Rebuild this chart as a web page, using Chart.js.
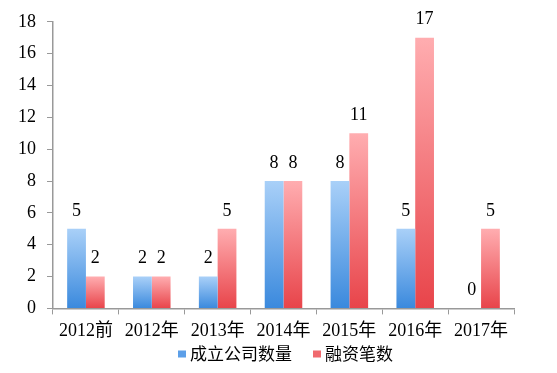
<!DOCTYPE html>
<html>
<head>
<meta charset="utf-8">
<script src="https://cdn.jsdelivr.net/npm/chart.js@4/dist/chart.umd.min.js"></script>
<style>
  html, body { margin: 0; padding: 0; background: #fff; }
  #wrap { width: 557px; height: 373px; }
</style>
</head>
<body>
<div id="wrap"><canvas id="chart" width="557" height="373"></canvas></div>
<script>
// --- data ---
const categories = ['2012前', '2012年', '2013年', '2014年', '2015年', '2016年', '2017年'];
const companyCounts = [5, 2, 2, 8, 8, 5, 0];     // 成立公司数量
const fundingCounts = [2, 2, 5, 8, 11, 17, 5];   // 融资笔数
const yTicks = [0, 2, 4, 6, 8, 10, 12, 14, 16, 18];

const FONT = '"Liberation Serif", "Noto Sans CJK SC", serif';
const CJK = '"Noto Sans CJK SC", sans-serif';

// gradient per bar: light at the bar's top, deeper at the baseline
function barGradient(top, bottom) {
    return function (ctx) {
        const chart = ctx.chart;
        const y = chart.scales && chart.scales.y;
        if (!chart.chartArea || !y || ctx.raw === undefined) return bottom;
        const y0 = y.getPixelForValue(ctx.raw);
        const y1 = y.getPixelForValue(0);
        if (y1 - y0 < 1) return bottom;
        const g = chart.ctx.createLinearGradient(0, y0, 0, y1);
        g.addColorStop(0, top);
        g.addColorStop(1, bottom);
        return g;
    };
}

// value above each bar
const valueLabels = {
    id: 'valueLabels',
    afterDatasetsDraw(chart) {
        const c = chart.ctx;
        c.save();
        c.font = '18px ' + FONT;
        c.fillStyle = '#000';
        c.textAlign = 'center';
        c.textBaseline = 'bottom';
        chart.data.datasets.forEach((ds, i) => {
            chart.getDatasetMeta(i).data.forEach((bar, j) => {
                c.fillText(String(ds.data[j]), bar.x, bar.y - 9);
            });
        });
        c.restore();
    }
};

// legend under the axis labels
const legendColors = ['#5c9fe8', '#f06a6e'];
const bottomLegend = {
    id: 'bottomLegend',
    afterDraw(chart) {
        const c = chart.ctx;
        c.save();
        c.font = '17px ' + CJK;
        c.textBaseline = 'middle';
        const items = chart.data.datasets.map((ds, i) => ({ text: ds.label, color: legendColors[i] }));
        const box = 8, gap = 4, spacing = 21;
        const widths = items.map(it => box + gap + c.measureText(it.text).width);
        const total = widths.reduce((a, b) => a + b, 0) + spacing * (items.length - 1);
        let x = chart.width / 2 + 7 - total / 2;
        const y = 354;
        items.forEach((it, i) => {
            c.fillStyle = it.color;
            c.fillRect(x, y - 3.5, box, 7);
            c.fillStyle = '#000';
            c.fillText(it.text, x + box + gap, y);
            x += widths[i] + spacing;
        });
        c.restore();
    }
};

new Chart(document.getElementById('chart').getContext('2d'), {
    type: 'bar',
    data: {
        labels: categories,
        datasets: [
            {
                label: '成立公司数量',
                data: companyCounts,
                backgroundColor: barGradient('#a9d0f8', '#3a89dd'),
                borderWidth: 0
            },
            {
                label: '融资笔数',
                data: fundingCounts,
                backgroundColor: barGradient('#ffadb0', '#e8444a'),
                borderWidth: 0
            }
        ]
    },
    options: {
        responsive: false,
        animation: false,
        datasets: { bar: { categoryPercentage: 0.57, barPercentage: 1.0 } },
        layout: { padding: { top: 10, right: 43, left: 7, bottom: 25 } },
        plugins: {
            legend: { display: false },
            tooltip: { enabled: false }
        },
        scales: {
            x: {
                grid: { drawOnChartArea: false, drawTicks: true, tickLength: 6, color: '#999' },
                border: { color: '#999', width: 1.5 },
                ticks: { color: '#000', font: { size: 18, family: FONT }, padding: 6, maxRotation: 0 }
            },
            y: {
                min: 0,
                max: 18,
                afterBuildTicks(axis) { axis.ticks = yTicks.map(v => ({ value: v })); },
                grid: { drawOnChartArea: false, drawTicks: true, tickLength: 6, color: '#999' },
                border: { color: '#999', width: 1.5 },
                ticks: { color: '#000', font: { size: 18, family: FONT }, padding: 11 }
            }
        }
    },
    plugins: [valueLabels, bottomLegend]
});
</script>
</body>
</html>
